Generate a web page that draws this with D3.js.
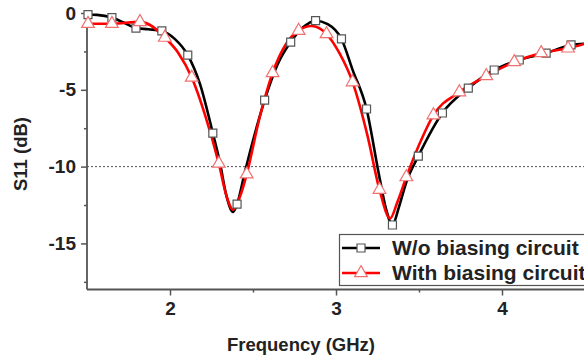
<!DOCTYPE html>
<html><head><meta charset="utf-8">
<script src="https://cdn.jsdelivr.net/npm/d3@7"></script>
<style>html,body{margin:0;padding:0;background:#fff;}svg{display:block;}</style>
</head><body>
<svg id="chart" width="584" height="363"></svg>
<script>
// ---- Data ----
const seriesNames = ["W/o biasing circuit", "With biasing circuit"];

// Curve points, W/o biasing circuit (GHz, dB)
const blackFreq = [1.506, 1.56, 1.650, 1.72, 1.795, 1.87, 1.951, 2.03, 2.107, 2.18, 2.258, 2.30, 2.34, 2.380, 2.404, 2.45, 2.50, 2.570, 2.65, 2.727, 2.80, 2.877, 2.95, 3.033, 3.10, 3.184, 3.26, 3.30, 3.340, 3.38, 3.424, 3.496, 3.641, 3.797, 3.953, 4.104, 4.266, 4.416, 4.50];
const blackS11  = [-0.10, -0.12, -0.30, -0.62, -0.98, -1.06, -1.17, -1.70, -2.74, -4.60, -7.82, -9.70, -11.9, -12.95, -12.44, -10.4, -8.30, -5.67, -3.30, -1.89, -0.95, -0.50, -0.72, -1.69, -3.70, -6.25, -10.6, -12.7, -13.8, -12.6, -11.0, -9.32, -6.51, -4.89, -3.71, -3.06, -2.61, -2.08, -2.00];
// Square marker positions
const blackMarkerFreq = [1.506, 1.650, 1.795, 1.951, 2.107, 2.258, 2.404, 2.570, 2.727, 2.877, 3.033, 3.184, 3.340, 3.496, 3.641, 3.797, 3.953, 4.104, 4.266, 4.416];
const blackMarkerS11  = [-0.10, -0.30, -0.98, -1.17, -2.74, -7.82, -12.44, -5.67, -1.89, -0.50, -1.69, -6.25, -13.8, -9.32, -6.51, -4.89, -3.71, -3.06, -2.61, -2.08];

// Curve points, With biasing circuit (GHz, dB)
const redFreq = [1.506, 1.650, 1.819, 1.88, 1.969, 2.05, 2.131, 2.21, 2.294, 2.34, 2.380, 2.42, 2.462, 2.54, 2.618, 2.70, 2.775, 2.853, 2.943, 3.02, 3.100, 3.19, 3.262, 3.326, 3.37, 3.424, 3.50, 3.587, 3.743, 3.905, 4.074, 4.236, 4.398, 4.50];
const redS11  = [-0.70, -0.70, -0.58, -0.78, -1.60, -2.60, -4.20, -6.60, -9.80, -11.9, -12.8, -12.0, -10.5, -6.80, -3.90, -2.00, -1.15, -0.85, -1.37, -2.60, -4.50, -8.00, -11.5, -13.37, -12.3, -10.68, -8.60, -6.65, -5.15, -4.10, -3.19, -2.60, -2.30, -2.00];
// Triangle marker positions
const redMarkerFreq = [1.506, 1.650, 1.819, 1.969, 2.131, 2.294, 2.462, 2.618, 2.775, 2.943, 3.100, 3.262, 3.424, 3.587, 3.743, 3.905, 4.074, 4.236, 4.398];
const redMarkerS11  = [-0.70, -0.70, -0.58, -1.60, -4.20, -9.80, -10.5, -3.90, -1.15, -1.37, -4.50, -11.5, -10.68, -6.65, -5.15, -4.10, -3.19, -2.60, -2.30];

const xMajorTicks = [2, 3, 4];
const xMinorTicks = [2.5, 3.5];
const yMajorTicks = [0, -5, -10, -15];
const yMinorTicks = [-2.5, -7.5, -12.5, -17.5];
const refLevel = -10;
const xTitle = "Frequency (GHz)";
const yTitle = "S11 (dB)";

// ---- Layout ----
const svg = d3.select("#chart");
const mLeft = 87, mRight = 585, mTop = 13, mBottom = 289.5;
const x = d3.scaleLinear().domain([1.5, 4.5]).range([mLeft, mRight]);
const y = d3.scaleLinear().domain([-18, 0]).range([mBottom, mTop]);

const axisColor = "#555";
const font = "'Liberation Sans', Arial, sans-serif";
const fmt = d => String(d); // plain hyphen-minus like the reference

// reference dotted line
svg.append("line")
  .attr("x1", x(1.5)).attr("x2", x(4.5))
  .attr("y1", y(refLevel)).attr("y2", y(refLevel))
  .attr("stroke", "#555").attr("stroke-width", 1)
  .attr("stroke-dasharray", "2,2");

// axes
const xAxis = svg.append("g").attr("transform", `translate(0,${mBottom})`)
  .call(d3.axisBottom(x).tickValues(xMajorTicks).tickSize(6).tickPadding(6).tickFormat(fmt));
const xMinor = svg.append("g").attr("transform", `translate(0,${mBottom})`)
  .call(d3.axisBottom(x).tickValues(xMinorTicks).tickSize(3).tickFormat(""));
const yAxis = svg.append("g").attr("transform", `translate(${mLeft},0)`)
  .call(d3.axisLeft(y).tickValues(yMajorTicks).tickSize(6).tickPadding(5).tickFormat(fmt));
const yMinor = svg.append("g").attr("transform", `translate(${mLeft},0)`)
  .call(d3.axisLeft(y).tickValues(yMinorTicks).tickSize(3).tickFormat(""));

[xAxis, xMinor, yAxis, yMinor].forEach(g => {
  g.select(".domain").attr("stroke", axisColor).attr("stroke-width", 1.8);
  g.selectAll(".tick line").attr("stroke", axisColor).attr("stroke-width", 1.5);
  g.selectAll("text").attr("font-family", font).attr("font-size", 19)
    .attr("font-weight", "bold").attr("fill", "#222");
});
xMinor.select(".domain").remove();
yMinor.select(".domain").remove();
yAxis.select(".domain").attr("d", `M0,${y(0)}V${mBottom}`);
xAxis.select(".domain").attr("d", `M${mLeft},0H${mRight}`);

// axis titles
svg.append("text").attr("x", 301).attr("y", 351)
  .attr("text-anchor", "middle").attr("font-family", font)
  .attr("font-size", 18.5).attr("font-weight", "bold").attr("fill", "#222")
  .text(xTitle);
svg.append("text").attr("transform", "translate(27,154) rotate(-90)")
  .attr("text-anchor", "middle").attr("font-family", font)
  .attr("font-size", 18.5).attr("font-weight", "bold").attr("fill", "#222")
  .text(yTitle);

// curves
const line = d3.line().x(d => x(d[0])).y(d => y(d[1])).curve(d3.curveMonotoneX);
const blackData = blackFreq.map((f, i) => [f, blackS11[i]]);
const redData = redFreq.map((f, i) => [f, redS11[i]]);

svg.append("path").datum(blackData).attr("d", line)
  .attr("fill", "none").attr("stroke", "#000").attr("stroke-width", 2.6);
svg.append("path").datum(redData).attr("d", line)
  .attr("fill", "none").attr("stroke", "#f00").attr("stroke-width", 2.6);

const sq = d3.symbol().type(d3.symbolSquare).size(64);
const tri = d3.symbol().type(d3.symbolTriangle).size(70);

svg.append("g").selectAll("path")
  .data(blackMarkerFreq.map((f, i) => [f, blackMarkerS11[i]]))
  .join("path").attr("d", sq)
  .attr("transform", d => `translate(${x(d[0])},${y(d[1])})`)
  .attr("fill", "#fff").attr("stroke", "#555").attr("stroke-width", 1.2);

svg.append("g").selectAll("path")
  .data(redMarkerFreq.map((f, i) => [f, redMarkerS11[i]]))
  .join("path").attr("d", tri)
  .attr("transform", d => `translate(${x(d[0])},${y(d[1])})`)
  .attr("fill", "#fff").attr("stroke", "#f07070").attr("stroke-width", 1.2);

// legend
const lg = svg.append("g");
lg.append("rect").attr("x", 339.5).attr("y", 234.5).attr("width", 260).attr("height", 51)
  .attr("fill", "#fff").attr("stroke", "#555").attr("stroke-width", 1.2);
const legendItems = [
  {name: seriesNames[0], color: "#000", sym: sq, mstroke: "#555", yy: 248},
  {name: seriesNames[1], color: "#f00", sym: tri, mstroke: "#f07070", yy: 273}
];
legendItems.forEach(it => {
  lg.append("line").attr("x1", 342).attr("x2", 380).attr("y1", it.yy).attr("y2", it.yy)
    .attr("stroke", it.color).attr("stroke-width", 2.6);
  lg.append("path").attr("d", it.sym).attr("transform", `translate(361,${it.yy})`)
    .attr("fill", "#fff").attr("stroke", it.mstroke).attr("stroke-width", 1.2);
  lg.append("text").attr("x", 392).attr("y", it.yy).attr("dy", "0.35em")
    .attr("font-family", font).attr("font-size", 21).attr("font-weight", "bold")
    .attr("fill", "#222").text(it.name);
});
</script>
</body></html>
